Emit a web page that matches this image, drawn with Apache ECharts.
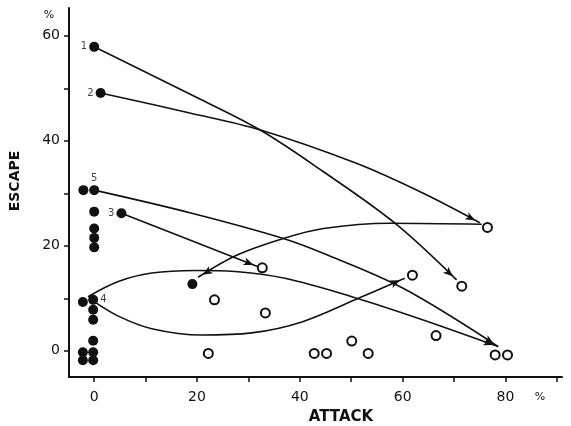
<!DOCTYPE html>
<html>
<head>
<meta charset="utf-8">
<script src="https://cdn.jsdelivr.net/npm/echarts@6/dist/echarts.min.js"></script>
<style>
html,body{margin:0;padding:0;background:#fff}
#main{width:571px;height:426px}
</style>
</head>
<body>
<div id="main"></div>
<script>
// 实心点
var filledPoints = [
    [0,57.9],[1.25,49.1],[-2.1,30.6],[0,30.6],[5.3,26.2],
    [0,26.5],[0,23.3],[0,21.5],[0,19.7],[19.1,12.7],
    [-2.2,9.3],[-0.2,9.7],[-0.2,7.8],[-0.2,5.9],
    [-0.2,1.9],[-2.2,-0.3],[-0.2,-0.3],[-2.2,-1.8],[-0.2,-1.8]
];
// 空心点
var openPoints = [
    [76.5,23.5],[32.7,15.8],[61.9,14.4],[71.5,12.3],[23.4,9.7],[33.3,7.2],
    [66.5,2.9],[50.1,1.85],[22.2,-0.5],[42.8,-0.5],[45.2,-0.5],[53.3,-0.5],
    [78.0,-0.8],[80.4,-0.8]
];
// 编号
var numberNames = ['1','2','3','4','5'];
var numberPoints = [[0,57.9],[1.25,49.1],[5.3,26.2],[-0.2,9.7],[0,30.6]];
// 曲线（最后一点为箭头所在）
var path1 = [[0,57.9],[18.6,48.9],[32.2,42.1],[44.6,34.1],[58.5,24.3],[70.5,13.5]];
var path2 = [[1.25,49.1],[18.6,45.3],[32.2,42.1],[51.0,35.7],[64.0,30.0],[75.0,24.4]];
var path3 = [[5.3,26.2],[18.6,21.1],[31.9,16.0]];
var path5 = [[0,30.6],[18.6,26.3],[36.8,21.4],[45.5,18.2],[60.1,11.9],[78.6,0.8]];
var path4a = [[-1.2,10.3],[4.7,13.2],[11.2,14.8],[19.6,15.3],[27.4,15.1],[37.1,13.8],
    [50.1,10.3],[63.0,6.2],[78.6,0.8]];
var path4b = [[-0.5,9.7],[4.7,6.6],[11.2,4.2],[20.9,3.0],[30.6,3.4],[40.4,5.5],
    [51.4,10.0],[60.4,13.8]];
var pathE = [[75.4,24.1],[57.5,24.3],[44.6,23.3],[36.8,21.4],[27.7,18.2],[20.2,14.0]];
var curves = [path1, path2, path3, path5, path4a, path4b, pathE];
// 刻度
var xTicks = [0,10,20,30,40,50,60,70,80,90];
var xLabels = [0,20,40,60,80];
var yTicks = [0,10,20,30,40,50,60];
var yLabels = [0,20,40,60];

var labelPos = ['left','left','left','right','top'];
var ink = '#111';
var myChart = echarts.init(document.getElementById('main'));

var series = [];
curves.forEach(function (p) {
    series.push({
        type: 'line', data: p, smooth: 0.35, showSymbol: false, symbol: 'none',
        lineStyle: {color: ink, width: 1.6}, z: 1, silent: true
    });
});
series.push({
    type: 'scatter', data: openPoints, symbol: 'circle', symbolSize: 9, z: 3,
    itemStyle: {color: '#fff', borderColor: ink, borderWidth: 2, opacity: 1}
});
series.push({
    type: 'scatter', data: filledPoints, symbol: 'circle', symbolSize: 10, z: 4,
    itemStyle: {color: ink, opacity: 1}
});
series.push({
    type: 'scatter', z: 5, symbol: 'circle', symbolSize: 10,
    itemStyle: {color: 'rgba(0,0,0,0)'},
    data: numberPoints.map(function (p, i) {
        return {value: p, label: {show: true, formatter: numberNames[i], position: labelPos[i],
            distance: 2, color: ink, fontSize: 10, fontFamily: 'DejaVu Sans'}};
    })
});
series.push({id: 'arrows', type: 'scatter', z: 6, symbol: 'arrow', symbolSize: [6, 10],
    itemStyle: {color: ink, opacity: 1}, data: []});

var option = {
    animation: false,
    backgroundColor: '#fff',
    grid: {left: 69, right: 9, top: 8, bottom: 49, containLabel: false, outerBoundsMode: 'none'},
    xAxis: {
        type: 'value', min: -4.9, max: 91,
        axisLine: {show: true, onZero: false, lineStyle: {color: ink, width: 2}},
        axisTick: {show: true, length: 5, lineStyle: {color: ink, width: 1.5}, customValues: xTicks},
        axisLabel: {customValues: xLabels, margin: 13, color: ink, fontSize: 14, fontFamily: 'DejaVu Sans'},
        splitLine: {show: false}
    },
    yAxis: {
        type: 'value', min: -5, max: 65.3,
        axisLine: {show: true, onZero: false, lineStyle: {color: ink, width: 2}},
        axisTick: {show: true, length: 5, lineStyle: {color: ink, width: 1.5}, customValues: yTicks},
        axisLabel: {customValues: yLabels, margin: 9, color: ink, fontSize: 14, fontFamily: 'DejaVu Sans'},
        splitLine: {show: false}
    },
    graphic: [
        {type: 'text', x: 15, y: 181, rotation: Math.PI / 2,
            style: {text: 'ESCAPE', font: 'bold 14px "DejaVu Sans"', fill: ink, align: 'center', verticalAlign: 'middle'}},
        {type: 'text', x: 341, y: 417,
            style: {text: 'ATTACK', font: 'bold 15px "DejaVu Sans"', fill: ink, align: 'center', verticalAlign: 'middle'}},
        {type: 'text', x: 49, y: 15,
            style: {text: '%', font: '11px "DejaVu Sans"', fill: ink, align: 'center', verticalAlign: 'middle'}},
        {type: 'text', x: 540, y: 397,
            style: {text: '%', font: '11px "DejaVu Sans"', fill: ink, align: 'center', verticalAlign: 'middle'}}
    ],
    series: series
};
myChart.setOption(option);

// 箭头：沿最后一段方向
var arrowData = curves.map(function (p) {
    var a = myChart.convertToPixel({gridIndex: 0}, p[p.length - 2]);
    var b = myChart.convertToPixel({gridIndex: 0}, p[p.length - 1]);
    var dx = b[0] - a[0], dy = b[1] - a[1];
    var len = Math.sqrt(dx * dx + dy * dy);
    var c = [b[0] - dx / len * 5, b[1] - dy / len * 5];
    var ang = Math.atan2(-dy, dx) * 180 / Math.PI - 90;
    return {value: myChart.convertFromPixel({gridIndex: 0}, c), symbolRotate: ang};
});
myChart.setOption({series: [{id: 'arrows', data: arrowData}]});
</script>
</body>
</html>
